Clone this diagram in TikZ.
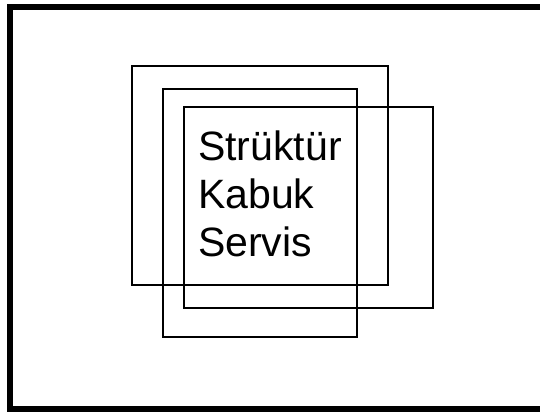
\documentclass[tikz,border=0pt]{standalone}
\usepackage{fontspec}
\setmainfont{Liberation Sans}
\usepackage{tikz}
\usetikzlibrary{positioning}

\tikzset{
  layer/.style={draw=black, line width=1.8pt},
  term/.style={inner sep=0pt, anchor=base west, font=\fontsize{41}{48}\selectfont}
}

\begin{document}
\begin{tikzpicture}[x=1pt, y=-1pt]
        \useasboundingbox (0,0) rectangle (540,412);
        \fill[white] (0,0) rectangle (540,412);
        % outer frame, right side runs off the page
        \draw[line width=6pt] (10,7) rectangle (546,409);
        % three overlapping squares
        \draw[layer] (132,66) rectangle (388,285);
        \draw[layer] (163,89) rectangle (357,337);
        \draw[layer] (184,107) rectangle (433,308);
        \node[term] (struktur) at (198,160) {Strüktür};
        \node[term] (kabuk) at (198,208) {Kabuk};
        \node[term] (servis) at (198,256) {Servis};
      \end{tikzpicture}
\end{document}
